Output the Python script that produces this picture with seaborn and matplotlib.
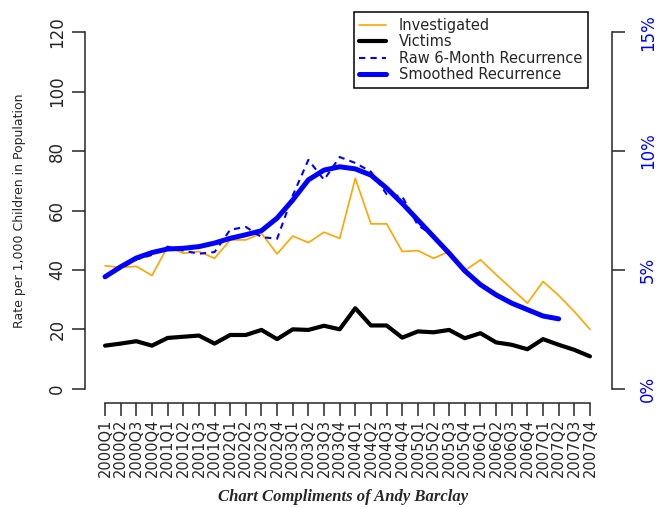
import matplotlib
matplotlib.use("Agg")
import matplotlib.pyplot as plt
import seaborn as sns

# Quarterly rates per 1,000 children, 2000Q1 - 2007Q4
quarters = ["2000Q1", "2000Q2", "2000Q3", "2000Q4", "2001Q1", "2001Q2", "2001Q3", "2001Q4",
            "2002Q1", "2002Q2", "2002Q3", "2002Q4", "2003Q1", "2003Q2", "2003Q3", "2003Q4",
            "2004Q1", "2004Q2", "2004Q3", "2004Q4", "2005Q1", "2005Q2", "2005Q3", "2005Q4",
            "2006Q1", "2006Q2", "2006Q3", "2006Q4", "2007Q1", "2007Q2", "2007Q3", "2007Q4"]
investigated = [41.4, 40.8, 41.2, 38.1, 47.8, 45.6, 46.2, 43.9, 50.1, 50.1, 52.3, 45.4,
                51.4, 49.2, 52.7, 50.6, 70.8, 55.5, 55.5, 46.2, 46.5, 43.9, 46.2, 39.8,
                43.4, 38.4, 33.6, 28.8, 36.1, 31.4, 26.0, 20.0]
victims = [14.5, 15.2, 16.0, 14.5, 17.1, 17.5, 17.9, 15.2, 18.1, 18.1, 19.8, 16.7,
           20.0, 19.8, 21.2, 20.0, 27.1, 21.3, 21.3, 17.2, 19.3, 19.0, 19.8, 17.0,
           18.7, 15.6, 14.8, 13.3, 16.7, 14.8, 13.1, 10.9]

# 6-month recurrence (percent), 2000Q1 - 2007Q2
raw_recurrence = [4.69, 5.06, 5.44, 5.63, 5.98, 5.81, 5.68, 5.75, 6.69, 6.81, 6.38, 6.31,
                  8.13, 9.63, 8.79, 9.75, 9.50, 9.13, 8.19, 8.09, 6.88, 6.44, 5.75, 4.98,
                  4.38, 3.94, 3.63, 3.28, 3.03, 2.90]
smoothed_recurrence = [4.71, 5.13, 5.50, 5.73, 5.88, 5.91, 5.98, 6.13, 6.33, 6.48, 6.65, 7.18,
                       7.94, 8.79, 9.20, 9.34, 9.25, 8.99, 8.44, 7.80, 7.10, 6.40, 5.70, 4.96,
                       4.38, 3.95, 3.60, 3.33, 3.06, 2.94]

sns.set_style("ticks")
plt.rcParams['font.family'] = ['DejaVu Sans']

fig = plt.figure(figsize=(6.58, 5.08), dpi=100)
ax = fig.add_axes([85 / 658, 105 / 508, 527 / 658, 385 / 508])

x = list(range(len(quarters)))
xr = x[:len(smoothed_recurrence)]

sns.lineplot(x=x, y=investigated, color='orange', lw=1.2, ax=ax, label='Investigated')
sns.lineplot(x=x, y=victims, color='black', lw=3, ax=ax, label='Victims')

ax2 = ax.twinx()
sns.lineplot(x=xr, y=raw_recurrence, color='blue', lw=1.5, linestyle=(0, (3, 2.5)),
             ax=ax2, label='Raw 6-Month Recurrence')
sns.lineplot(x=xr, y=smoothed_recurrence, color='blue', lw=3.6, ax=ax2,
             label='Smoothed Recurrence')

ax.set_xlim(-1.28, 32.41)
ax.set_ylim(-4.8, 124.8)
ax2.set_ylim(-0.6, 15.6)

# R-style axes: only the span of the ticks
for a in (ax, ax2):
    for s in a.spines.values():
        s.set_visible(False)
        s.set_linewidth(1.1)
ax.spines['left'].set_visible(True)
ax.spines['left'].set_bounds(0, 120)
ax.spines['bottom'].set_visible(True)
ax.spines['bottom'].set_bounds(0, 31)
ax2.spines['right'].set_visible(True)
ax2.spines['right'].set_bounds(0, 15)

ax.set_xticks(x)
ax.set_xticklabels(quarters, rotation=90, fontsize=10.5)
ax.set_yticks([0, 20, 40, 60, 80, 100, 120])
ax.set_yticklabels(['0', '20', '40', '60', '80', '100', '120'], rotation=90, va='center',
                   fontsize=12)
ax.tick_params(axis='x', length=9.5, width=1.1, pad=2)
ax.tick_params(axis='y', length=9.5, width=1.1, pad=4)
ax.set_ylabel('Rate per 1,000 Children in Population', fontsize=9)
ax.yaxis.set_label_coords(-0.112, 0.5)
ax.set_xlabel('')

ax2.set_yticks([0, 5, 10, 15])
ax2.set_yticklabels(['0%', '5%', '10%', '15%'], rotation=90, va='center', fontsize=12)
ax2.tick_params(axis='y', length=9.5, width=1.1, pad=10, labelcolor='blue')

h1, l1 = ax.get_legend_handles_labels()
h2, l2 = ax2.get_legend_handles_labels()
ax.get_legend().remove()
ax2.get_legend().remove()
leg = ax2.legend(h1 + h2, l1 + l2, loc='upper right', bbox_to_anchor=(588 / 658, 1 - 12 / 508),
                 bbox_transform=fig.transFigure, fontsize=10.5, handlelength=1.8,
                 handletextpad=0.9, labelspacing=0.1, borderaxespad=0, fancybox=False,
                 framealpha=1, edgecolor='black', borderpad=0.4)
leg.get_frame().set_linewidth(1.1)

fig.text(0.522, 1 - 497 / 508, 'Chart Compliments of Andy Barclay', ha='center', va='center',
         fontsize=12, family='Liberation Serif', style='italic', weight='bold')

fig.savefig('out.png', dpi=100)
